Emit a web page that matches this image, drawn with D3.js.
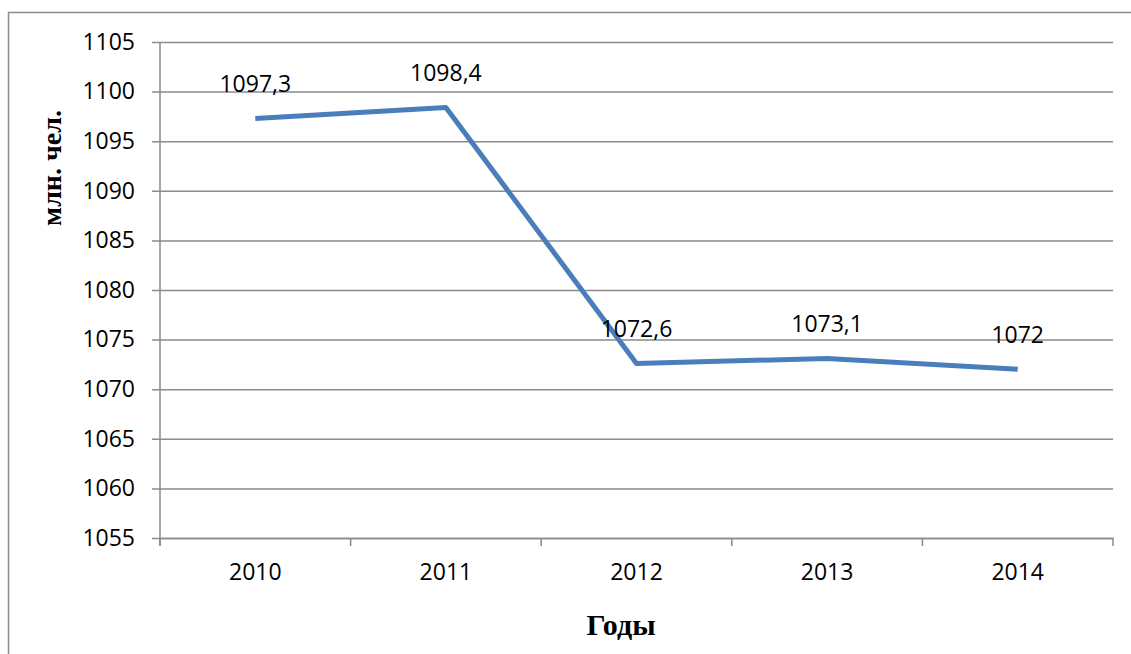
<!DOCTYPE html>
<html>
<head>
<meta charset="utf-8">
<script src="https://cdn.jsdelivr.net/npm/d3@7"></script>
<style>
  body { margin: 0; background: #fff; }
  svg { display: block; }
</style>
</head>
<body>
<svg id="chart" width="1131" height="654"></svg>
<script>
// values
const years = ['2010', '2011', '2012', '2013', '2014'];
const population = [1097.3, 1098.4, 1072.6, 1073.1, 1072];
const pointLabels = ['1097,3', '1098,4', '1072,6', '1073,1', '1072'];
const yTicks = [1055, 1060, 1065, 1070, 1075, 1080, 1085, 1090, 1095, 1100, 1105];

const svg = d3.select('#chart');
const margin = {top: 42, right: 18, bottom: 116, left: 160};
const width = 1131 - margin.left - margin.right;
const height = 654 - margin.top - margin.bottom;
const labelFont = '"Open Sans", sans-serif';
const titleFont = '"Liberation Serif", "Times New Roman", serif';

// outer frame, running off the right and bottom edges like the reference
svg.append('rect')
  .attr('x', 8.5).attr('y', 12.5)
  .attr('width', 1140).attr('height', 660)
  .attr('fill', 'none')
  .attr('stroke', '#8c8c8c')
  .attr('stroke-width', 1.5);

const g = svg.append('g')
  .attr('transform', `translate(${margin.left},${margin.top})`);

const x = d3.scaleBand().domain(years).range([0, width]);
const y = d3.scaleLinear().domain([1055, 1105]).range([height, 0]);

// horizontal gridlines with small ticks sticking out to the left
const yAxis = g.append('g')
  .call(d3.axisLeft(y)
    .tickValues(yTicks)
    .tickFormat(d3.format('d'))
    .tickSize(-width)
    .tickPadding(25)
    .tickSizeOuter(0));
yAxis.select('.domain').remove();
yAxis.selectAll('.tick line')
  .attr('x1', -8)
  .attr('stroke', '#8a8a8a')
  .attr('stroke-width', 1.5);
yAxis.selectAll('.tick text')
  .attr('font-family', labelFont)
  .attr('font-size', 23)
  .attr('fill', '#000');

// vertical axis line
g.append('line')
  .attr('x1', 0).attr('x2', 0)
  .attr('y1', 0).attr('y2', height + 8)
  .attr('stroke', '#8a8a8a')
  .attr('stroke-width', 1.5);

// category axis: ticks on band boundaries
const xAxis = g.append('g')
  .attr('transform', `translate(0,${height})`)
  .call(d3.axisBottom(x).tickSize(0).tickPadding(26));
xAxis.select('.domain')
  .attr('stroke', '#8a8a8a')
  .attr('stroke-width', 1.5);
xAxis.selectAll('.tick text')
  .attr('font-family', labelFont)
  .attr('font-size', 23)
  .attr('fill', '#000');

const bounds = years.map(d => x(d)).concat([width]);
g.append('g').selectAll('line')
  .data(bounds)
  .join('line')
  .attr('x1', d => d).attr('x2', d => d)
  .attr('y1', height).attr('y2', height + 8)
  .attr('stroke', '#8a8a8a')
  .attr('stroke-width', 1.5);

// the series line
const line = d3.line()
  .x((d, i) => x(years[i]) + x.bandwidth() / 2)
  .y(d => y(d));

g.append('path')
  .datum(population)
  .attr('d', line)
  .attr('fill', 'none')
  .attr('stroke', '#4a7ebb')
  .attr('stroke-width', 5)
  .attr('stroke-linejoin', 'round');

// value labels above each point
g.append('g').selectAll('text')
  .data(population)
  .join('text')
  .attr('x', (d, i) => x(years[i]) + x.bandwidth() / 2)
  .attr('y', d => y(d) - 26)
  .attr('text-anchor', 'middle')
  .attr('font-family', labelFont)
  .attr('font-size', 23)
  .attr('fill', '#000')
  .text((d, i) => pointLabels[i]);

// axis titles
svg.append('text')
  .attr('transform', 'translate(61,168) rotate(-90)')
  .attr('text-anchor', 'middle')
  .attr('font-family', titleFont)
  .attr('font-weight', 'bold')
  .attr('font-size', 28)
  .text('млн. чел.');

svg.append('text')
  .attr('x', 621)
  .attr('y', 635)
  .attr('text-anchor', 'middle')
  .attr('font-family', titleFont)
  .attr('font-weight', 'bold')
  .attr('font-size', 30)
  .text('Годы');
</script>
</body>
</html>
